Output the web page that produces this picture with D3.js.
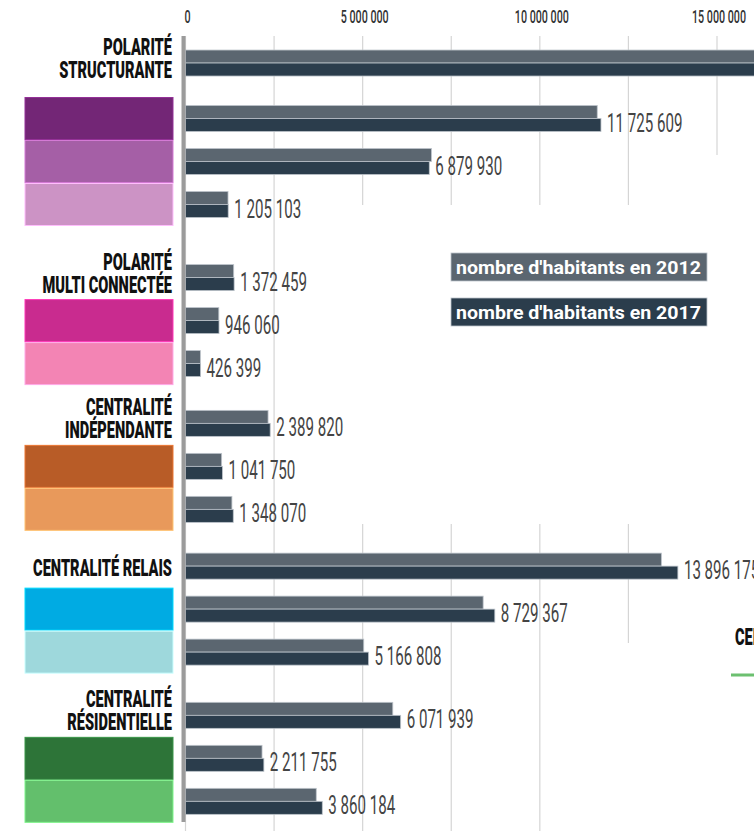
<!DOCTYPE html>
<html>
<head>
<meta charset="utf-8">
<script src="https://cdn.jsdelivr.net/npm/d3@7"></script>
<style>
  body { margin: 0; background: #fff; }
  svg { display: block; font-family: Roboto, "Noto Sans", sans-serif; }
</style>
</head>
<body>
<div id="chart"></div>
<script>
// rows : group heading first, then its sub-categories (colour swatch, no label)
var rowLabels = [
    "POLARITÉ|STRUCTURANTE", "", "", "",
    "POLARITÉ|MULTI CONNECTÉE", "", "",
    "CENTRALITÉ|INDÉPENDANTE", "", "",
    "CENTRALITÉ RELAIS", "", "",
    "CENTRALITÉ|RÉSIDENTIELLE", "", ""
];
var pop2012 = [
    19760000, 11620000, 6940000, 1200000,
    1360000, 940000, 420000,
    2330000, 1020000, 1310000,
    13430000, 8400000, 5030000,
    5850000, 2160000, 3690000
];
var pop2017 = [
    19810642, 11725609, 6879930, 1205103,
    1372459, 946060, 426399,
    2389820, 1041750, 1348070,
    13896175, 8729367, 5166808,
    6071939, 2211755, 3860184
];
var tickValues = [0, 5000000, 10000000, 15000000];
var gridValues = [0, 2500000, 5000000, 7500000, 10000000, 12500000, 15000000, 17500000];
var seriesNames = ["nombre d'habitants en 2012", "nombre d'habitants en 2017"];

var swatchColors = [null, "#732676", "#a55fa6", "#cc93c5",
    null, "#c92b8f", "#f384b4",
    null, "#b85c27", "#e8995b",
    null, "#00abe3", "#9ed8dc",
    null, "#2d7438", "#63bf6c"];
var col2012 = "#5b6670", col2017 = "#2b3d4c";

var W = 754, H = 831;
var svg = d3.select("#chart").append("svg").attr("width", W).attr("height", H);

var fmt = d3.formatLocale({decimal: ",", thousands: " ", grouping: [3]}).format(",d");

var x = d3.scaleLinear().domain([0, 15000000]).range([185.5, 717]);

// row slots : one unit per row, extra space before each group (in rows), first heading sits higher
var groupGap = [0, 0.7, 0.39, 0.32, 0.47];
var slots = [], g = -1, acc = 0;
rowLabels.forEach(function(l, i) {
    if (l) { g++; acc += groupGap[g]; }
    slots.push(i + acc - (i === 0 ? 0.29 : 0));
});
var y = d3.scaleLinear().domain([0, 1]).range([75.5, 118.5]);
var unit = y(1) - y(0);

function measure(str, size, weight) {
    var t = svg.append("text").attr("font-size", size).attr("font-weight", weight).text(str);
    var w = t.node().getComputedTextLength();
    t.remove();
    return w;
}
var headScale = 139 / measure("CENTRALITÉ RELAIS", 24, 900);
var valScale = 67 / measure("2 389 820", 26, 400);
var tickScale = 48 / measure("5 000 000", 19, 500);

// grid
svg.append("g").selectAll("line").data(gridValues).enter().append("line")
    .attr("x1", function(d) { return x(d); }).attr("x2", function(d) { return x(d); })
    .attr("y1", 36).attr("y2", H)
    .attr("stroke", "#d5d5d5").attr("stroke-width", 1.2);

// white panels of the page laid over the grid
var covers = [[282, 205, W, 524], [700, 155, W, H], [600, 643, W, H]];
svg.append("g").selectAll("rect").data(covers).enter().append("rect")
    .attr("x", function(d) { return d[0]; }).attr("y", function(d) { return d[1]; })
    .attr("width", function(d) { return d[2] - d[0]; }).attr("height", function(d) { return d[3] - d[1]; })
    .attr("fill", "#fff");

// tick labels
svg.append("g").selectAll("text").data(tickValues).enter().append("text")
    .attr("transform", function(d) { return "translate(" + (x(d) + 2) + ",23) scale(" + tickScale + ",1)"; })
    .attr("text-anchor", "middle").attr("font-size", 19).attr("font-weight", 500).attr("fill", "#333")
    .text(function(d) { return fmt(d); });

// swatches
svg.append("g").selectAll("rect").data(swatchColors.map(function(c, i) { return {c: c, i: i}; })
        .filter(function(d) { return d.c; }))
    .enter().append("rect")
    .attr("x", 25).attr("width", 148)
    .attr("y", function(d) { return y(slots[d.i]) - unit / 2 + 0.5; })
    .attr("height", unit - 1)
    .attr("fill", function(d) { return d.c; })
    .attr("stroke", function(d) { return d3.color(d.c).brighter(0.7); }).attr("stroke-width", 1);

// bars
var bh = 13;
var bars = svg.append("g");
bars.selectAll(".b12").data(pop2012).enter().append("rect")
    .attr("x", x(0)).attr("y", function(d, i) { return y(slots[i]) - bh; })
    .attr("width", function(d) { return x(d) - x(0); }).attr("height", bh)
    .attr("fill", col2012).attr("stroke", "#bcc3ca").attr("stroke-width", 0.8);
bars.selectAll(".b17").data(pop2017).enter().append("rect")
    .attr("x", x(0)).attr("y", function(d, i) { return y(slots[i]); })
    .attr("width", function(d) { return x(d) - x(0); }).attr("height", bh)
    .attr("fill", col2017).attr("stroke", "#bcc3ca").attr("stroke-width", 0.8);

// value labels
svg.append("g").selectAll("text").data(pop2017).enter().append("text")
    .attr("transform", function(d, i) {
        return "translate(" + (x(d) + 6) + "," + (y(slots[i]) + bh) + ") scale(" + valScale + ",1)";
    })
    .attr("font-size", 26).attr("font-weight", 400).attr("fill", "#444")
    .text(function(d) { return fmt(d); });

// axis line
svg.append("line").attr("x1", 183.5).attr("x2", 183.5).attr("y1", 36).attr("y2", 822)
    .attr("stroke", "#9b9b9b").attr("stroke-width", 4);

// group headings
rowLabels.forEach(function(l, i) {
    if (!l) return;
    var lines = l.split("|");
    var c = y(slots[i]);
    var base = lines.length === 1 ? [c + 10] : [c - 8, c + 15];
    lines.forEach(function(t, j) {
        svg.append("text")
            .attr("transform", "translate(172," + base[j] + ") scale(" + headScale + ",1)")
            .attr("text-anchor", "end").attr("font-size", 24).attr("font-weight", 900).attr("fill", "#111")
            .text(t);
    });
});

// legend
var legend = svg.append("g").selectAll("g").data(seriesNames).enter().append("g")
    .attr("transform", function(d, i) { return "translate(451," + (253 + i * 45) + ")"; });
legend.append("rect").attr("width", 256).attr("height", 28)
    .attr("fill", function(d, i) { return i ? col2017 : col2012; })
    .attr("stroke", "#bcc3ca").attr("stroke-width", 0.8);
legend.append("text").attr("x", 5).attr("y", 21)
    .attr("font-size", 19).attr("font-weight", 700).attr("fill", "#fff")
    .attr("textLength", 245).attr("lengthAdjust", "spacingAndGlyphs")
    .text(function(d) { return d; });

// next panel of the page, cut by the frame
svg.append("text")
    .attr("transform", "translate(735,645) scale(" + headScale + ",1)")
    .attr("font-size", 24).attr("font-weight", 900).attr("fill", "#111")
    .text("CENTRALITÉ");
svg.append("line").attr("x1", 731).attr("x2", W + 10).attr("y1", 675).attr("y2", 675)
    .attr("stroke", "#6cc070").attr("stroke-width", 3);
</script>
</body>
</html>
